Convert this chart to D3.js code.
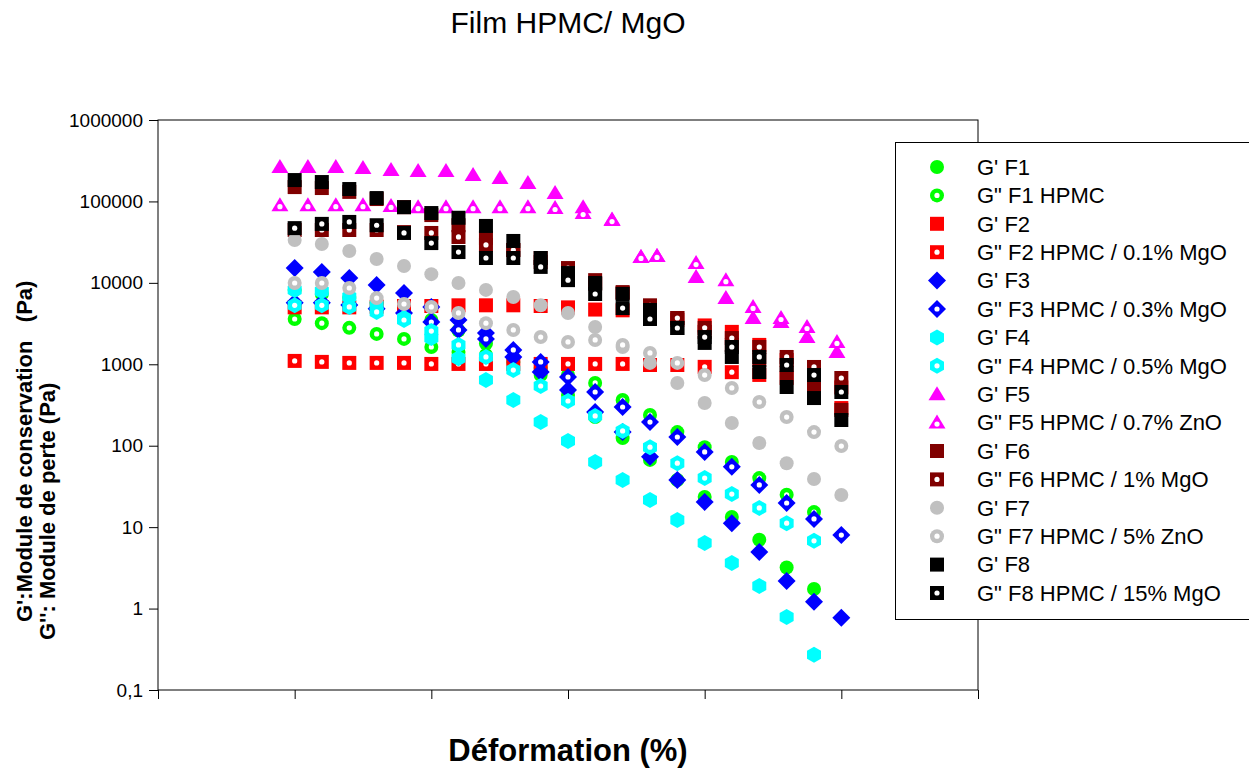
<!DOCTYPE html>
<html>
<head>
<meta charset="utf-8">
<script src="https://cdn.jsdelivr.net/npm/d3@7"></script>
<style>
  body { margin: 0; background: #fff; }
  svg { display: block; font-family: "Liberation Sans", Arial, sans-serif; }
</style>
</head>
<body>
<svg id="chart" width="1249" height="771"></svg>
<script>
// strain values (%) shared by most series, 5 points per decade
var strain = [0.01, 0.0158, 0.0251, 0.0398, 0.0631, 0.1, 0.158, 0.251, 0.398, 0.631, 1, 1.58, 2.51, 3.98, 6.31, 10, 15.8, 25.1, 39.8, 63.1, 100];
// F5 was measured on its own strain points
var strainF5 = [0.0078, 0.0125, 0.020, 0.0316, 0.0507, 0.080, 0.128, 0.202, 0.318, 0.509, 0.804, 1.29, 2.10, 3.42, 4.48, 8.65, 14.3, 22.6, 36.2, 56.1, 92.9];

// G' (storage) and G'' (loss) moduli, Pa
var gpF1 = [8200, 7300, 6500, 5700, 4600, 3500, 2600, 1800, 1200, 740, 420, 225, 124, 67, 38, 23.5, 13.3, 7.0, 3.2, 1.74];
var gsF1 = [3600, 3200, 2800, 2360, 2050, 1630, 1420, 1300, 1070, 900, 740, 590, 364, 238, 147, 96, 63, 40, 25, 15.3];
var gpF2 = [5000, 5000, 5000, 5100, 5200, 5200, 5300, 5300, 5300, 5200, 5000, 4700, 4600, 4000, 3500, 3000, 2500, 1730, 1130, 640, 290];
var gsF2 = [1100, 1070, 1040, 1040, 1040, 1010, 1010, 1010, 1010, 1010, 1010, 1010, 1010, 980, 980, 930, 800, 740, 680, 590, 520];
var gpF3 = [15200, 13600, 11500, 9400, 7500, 5060, 3500, 2420, 1230, 804, 483, 259, 147, 73, 38, 20.4, 11.2, 4.95, 2.18, 1.21, 0.77];
var gsF3 = [5700, 5700, 5350, 4800, 4270, 3300, 2640, 2050, 1500, 1070, 698, 457, 299, 195, 128, 84, 55, 33, 19.8, 12.6, 8.0];
var gpF4 = [8200, 7900, 6700, 5300, 3700, 2100, 1190, 641, 364, 195, 114, 63, 38, 21.5, 12.2, 6.4, 3.63, 1.89, 0.79, 0.27];
var gsF4 = [5300, 5300, 5060, 4400, 3500, 2560, 1730, 1230, 850, 541, 354, 232, 152, 96, 61, 40, 25.5, 17.2, 11.2, 6.8];
var gpF5 = [265000, 265000, 265000, 258000, 243000, 237000, 237000, 211000, 194000, 168000, 127000, 85000, 60000, 20800, 21400, 11800, 6500, 3700, 3300, 2160, 1420];
var gsF5 = [90000, 90000, 90000, 90000, 88000, 85000, 85000, 85000, 85000, 85000, 83000, 72000, 59000, 20800, 21400, 17500, 10800, 5060, 3700, 2870, 1880];
var gpF6 = [150000, 146000, 131000, 107000, 85000, 68000, 51000, 35600, 25300, 18000, 12100, 9700, 7500, 5200, 3700, 2500, 1730, 1130, 782, 512, 275];
var gsF6 = [44600, 44600, 44600, 44600, 42000, 41000, 36600, 29200, 25300, 20200, 15200, 10800, 7700, 5300, 3700, 2800, 2100, 1630, 1230, 927, 679];
var gpF7 = [33600, 30000, 24600, 19600, 16100, 12800, 9960, 8200, 6700, 5300, 4270, 2870, 1630, 1040, 589, 335, 190, 108, 61, 39, 24.8];
var gsF7 = [9960, 9960, 8650, 6500, 5500, 5060, 4270, 3200, 2640, 2160, 1880, 1990, 1730, 1380, 1040, 738, 512, 344, 225, 147, 99];
var gpF8 = [183000, 173000, 142000, 110000, 85000, 72000, 63000, 50000, 32700, 20200, 13200, 9960, 7300, 4640, 2790, 1830, 1230, 804, 526, 385, 207];
var gsF8 = [47000, 53000, 56000, 51000, 41000, 30800, 23900, 20200, 20200, 15700, 10800, 7300, 4900, 3600, 2790, 2160, 1630, 1230, 980, 738, 457];

var legendLabels = ["G' F1", "G\" F1 HPMC", "G' F2", "G\" F2 HPMC / 0.1% MgO", "G' F3", "G\" F3 HPMC / 0.3% MgO",
  "G' F4", "G\" F4 HPMC / 0.5% MgO", "G' F5", "G\" F5 HPMC / 0.7% ZnO", "G' F6", "G\" F6 HPMC / 1% MgO",
  "G' F7", "G\" F7 HPMC / 5% ZnO", "G' F8", "G\" F8 HPMC / 15% MgO"];
var colors = ["#00ff00", "#ff0000", "#0000ff", "#00ffff", "#ff00ff", "#800000", "#c0c0c0", "#000000"];
var shapes = ["circle", "square", "diamond", "hexagon", "triangle", "square", "circle", "square"];
var yTicks = [0.1, 1, 10, 100, 1000, 10000, 100000, 1000000];
var xTicks = [0.001, 0.01, 0.1, 1, 10, 100, 1000];

// build the series list (G' then G'' for each formulation)
var values = [gpF1, gsF1, gpF2, gsF2, gpF3, gsF3, gpF4, gsF4, gpF5, gsF5, gpF6, gsF6, gpF7, gsF7, gpF8, gsF8];
var series = values.map(function(v, i) {
    var f = Math.floor(i / 2);
    var xs = f == 4 ? strainF5 : strain;
    return {
        label: legendLabels[i],
        color: colors[f],
        shape: shapes[f],
        loss: i % 2 == 1,
        points: v.map(function(d, j) { return { x: xs[j], y: d }; })
    };
});

var svg = d3.select("#chart");
var margin = { left: 158, top: 120, right: 978, bottom: 690 };

var x = d3.scaleLog().domain([0.001, 1000]).range([margin.left, margin.right]);
var y = d3.scaleLog().domain([0.1, 1000000]).range([margin.bottom, margin.top]);

//marker path for each shape, centred on 0,0
function markerPath(shape) {
    if (shape == "circle") return "M7,0A7,7 0 1,1 -7,0A7,7 0 1,1 7,0Z";
    if (shape == "square") return "M-7,-7H7V7H-7Z";
    if (shape == "diamond") return "M0,-9L9,0L0,9L-9,0Z";
    if (shape == "triangle") return "M0,-8L8.5,6L-8.5,6Z";
    // hexagon, pointy top
    return "M0,-8L7,-4L7,4L0,8L-7,4L-7,-4Z";
}

// frame
svg.append("rect")
    .attr("x", margin.left).attr("y", margin.top)
    .attr("width", margin.right - margin.left).attr("height", margin.bottom - margin.top)
    .attr("fill", "none").attr("stroke", "#000").attr("stroke-width", 1);

// y axis
var yAxis = d3.axisLeft(y).tickValues(yTicks).tickSizeOuter(0).tickSize(9).tickPadding(6)
    .tickFormat(function(d) { return d < 1 ? "0,1" : d3.format("d")(d); });
var gy = svg.append("g").attr("transform", "translate(" + margin.left + ",0)").call(yAxis);
gy.select(".domain").remove();
gy.selectAll("text").style("font-size", "19px").style("font-family", "Liberation Sans, Arial, sans-serif").attr("fill", "#000");

// x axis, ticks only
var xAxis = d3.axisBottom(x).tickValues(xTicks).tickSizeOuter(0).tickSize(9).tickFormat("");
var gx = svg.append("g").attr("transform", "translate(0," + margin.bottom + ")").call(xAxis);
gx.select(".domain").remove();

// points
var layer = svg.append("g");
series.forEach(function(s) {
    var g = layer.append("g");
    var pts = g.selectAll("g").data(s.points).enter().append("g")
        .attr("transform", function(d) { return "translate(" + x(d.x) + "," + y(d.y) + ")"; });
    pts.append("path").attr("d", markerPath(s.shape)).attr("fill", s.color);
    if (s.loss) {
        pts.append("circle").attr("r", 2.6).attr("cy", s.shape == "triangle" ? 1.5 : 0).attr("fill", "#fff");
    }
});

// title
svg.append("text").attr("x", 568).attr("y", 33).attr("text-anchor", "middle")
    .style("font-size", "30px").text("Film HPMC/ MgO");

// axis titles
svg.append("text").attr("x", 568).attr("y", 761).attr("text-anchor", "middle")
    .style("font-size", "31px").style("font-weight", "bold").text("Déformation (%)");

svg.append("text").attr("transform", "translate(32,622) rotate(-90)")
    .style("font-size", "22px").style("font-weight", "bold").style("white-space", "pre")
    .attr("xml:space", "preserve")
    .text("G':Module de conservation   (Pa)");
svg.append("text").attr("transform", "translate(55,640) rotate(-90)")
    .style("font-size", "22px").style("font-weight", "bold")
    .text("G'': Module de perte (Pa)");

// legend
var legend = svg.append("g");
legend.append("rect").attr("x", 895.5).attr("y", 142.5).attr("width", 400).attr("height", 477)
    .attr("fill", "#fff").attr("stroke", "#000").attr("stroke-width", 1);
var items = legend.selectAll(".item").data(series).enter().append("g")
    .attr("class", "item")
    .attr("transform", function(d, i) { return "translate(937," + (167 + i * 28.4) + ")"; });
items.append("path").attr("d", function(d) { return markerPath(d.shape); }).attr("fill", function(d) { return d.color; });
items.filter(function(d) { return d.loss; }).append("circle")
    .attr("r", 2.6).attr("cy", function(d) { return d.shape == "triangle" ? 1.5 : 0; }).attr("fill", "#fff");
items.append("text").attr("x", 40).attr("dy", "0.35em").style("font-size", "22px")
    .text(function(d) { return d.label; });
</script>
</body>
</html>
